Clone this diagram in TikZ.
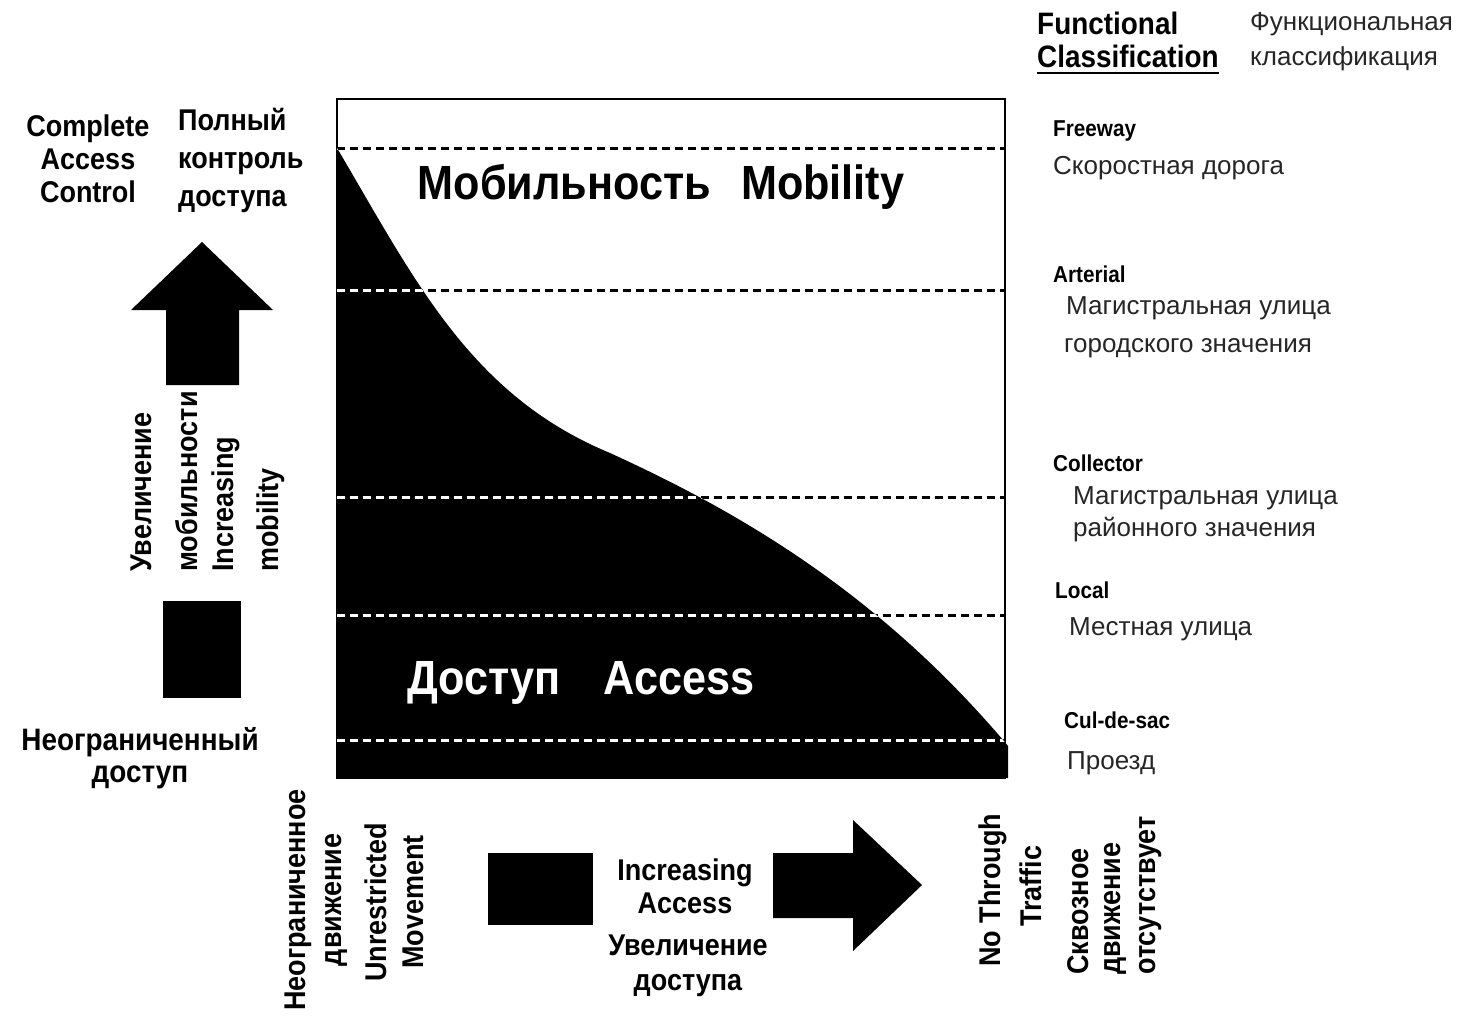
\documentclass[tikz,border=0pt]{standalone}
\usepackage{fontspec}
\newfontfamily\cf[FakeStretch=0.9]{Liberation Sans}
\newfontfamily\rf{Liberation Sans}
\newcommand\fsz[2]{\fontsize{#1}{#2}\selectfont}
\newcommand\accpath{(337,148) .. controls (415,280) and (470,395) .. (610,453) .. controls (735,510) and (875,590) .. (1003,740) -- (1008,746) -- (1008,778) -- (337,778) -- cycle}
\begin{document}
\begin{tikzpicture}[x=1pt,y=-1pt,
  lab/.style={inner sep=0pt, align=center},
  bb/.style={lab, font=\cf\bfseries\fsz{30}{33}},
  big/.style={lab, font=\cf\bfseries\fsz{48}{50}},
  cls/.style={lab, anchor=west, align=left, font=\cf\bfseries\fsz{23}{26}},
  rus/.style={lab, anchor=west, align=left, font=\rf\fsz{26}{33}, text=black!85},
  dline/.style={line width=3pt, dash pattern=on 8pt off 5pt},
]
\fill[white] (0,0) rectangle (1464,1018);
\useasboundingbox (0,0) rectangle (1464,1018);

% main frame
\draw[line width=2.5pt] (337,99) rectangle (1005,778);
% access region
\fill[black] \accpath;
% dashed level lines
\foreach \yy in {148,290,497,615,740}{
  \draw[dline, black] (337,\yy) -- (1005,\yy);
}
\begin{scope}
  \clip \accpath;
  \foreach \yy in {148,290,497,615,740}{
    \draw[dline, white] (337,\yy) -- (1008,\yy);
  }
\end{scope}

% big labels
\node[big] (mob) at (661,187) {Мобильность\hspace{30pt}Mobility};
\node[big, text=white] (acc) at (581,683) {Доступ\hspace{42pt}Access};

% top-left labels
\node[bb] (cac) at (88,159) {Complete\\Access\\Control};
\node[bb, anchor=west, align=left, font=\cf\bfseries\fsz{30}{38}] (pkd) at (178,160) {Полный\\контроль\\доступа};

% up arrow
\fill[black] (131,310) -- (202,242) -- (273,310) -- (239,310) -- (239,385) -- (166,385) -- (166,310) -- cycle;
% rotated mobility texts
\node[bb, rotate=90, anchor=west] (uvm) at (141,572) {Увеличение};
\node[bb, rotate=90, anchor=west] (mobr) at (187,572) {мобильности};
\node[bb, rotate=90, anchor=west] (incm) at (226,572) {Increasing};
\node[bb, rotate=90, anchor=west] (mobe) at (271,572) {mobility};
% left square
\fill[black] (163,601) rectangle (241,698);
\node[bb, font=\cf\bfseries\fsz{31}{32}] (ned) at (140,758) {Неограниченный\\доступ};

% bottom rotated labels
\node[bb, rotate=90] (nd1) at (298,900) {Неограниченное};
\node[bb, rotate=90] (nd2) at (336,900) {движение};
\node[bb, rotate=90] (um1) at (376,902) {Unrestricted};
\node[bb, rotate=90] (um2) at (413,902) {Movement};

% increasing access
\fill[black] (488,853) rectangle (593,925);
\node[bb] (ia) at (685,886) {Increasing\\Access};
\node[bb, font=\cf\bfseries\fsz{30}{35}] (ud) at (688,966) {Увеличение\\доступа};
\fill[black] (773,853) -- (853,853) -- (853,820) -- (922,885) -- (853,951) -- (853,918) -- (773,918) -- cycle;

\node[bb, rotate=90] (nt1) at (993,890) {No Through};
\node[bb, rotate=90] (nt2) at (1031,886) {Traffic};
\node[bb, rotate=90, anchor=west] (sk1) at (1078,975) {Сквозное};
\node[bb, rotate=90, anchor=west] (sk2) at (1115,975) {движение};
\node[bb, rotate=90, anchor=west] (sk3) at (1151,975) {отсутствует};

% right column
\node[lab, anchor=west, align=left, font=\cf\bfseries\fsz{31}{33}] (fc) at (1037,40) {Functional\\Classification};
\draw[line width=2.5pt] ([yshift=-5pt]fc.south west) -- ([yshift=-5pt]fc.south east);
\node[rus, font=\rf\fsz{26}{35}] (fk) at (1250,42) {Функциональная\\классификация};

\node[cls] (fw) at (1053,131) {Freeway};
\node[rus] (fwr) at (1053,168) {Скоростная дорога};
\node[cls] (ar) at (1053,274) {Arterial};
\node[rus] (ar1) at (1066,308) {Магистральная улица};
\node[rus] (ar2) at (1064,348) {городского значения};
\node[cls] (co) at (1053,463) {Collector};
\node[rus, font=\rf\fsz{26}{32}] (co1) at (1073,514) {Магистральная улица\\районного значения};
\node[cls] (lo) at (1055,590) {Local};
\node[rus] (lor) at (1069,629) {Местная улица};
\node[cls] (cds) at (1064,720) {Cul-de-sac};
\node[rus] (cdsr) at (1067,763) {Проезд};
\end{tikzpicture}
\end{document}
